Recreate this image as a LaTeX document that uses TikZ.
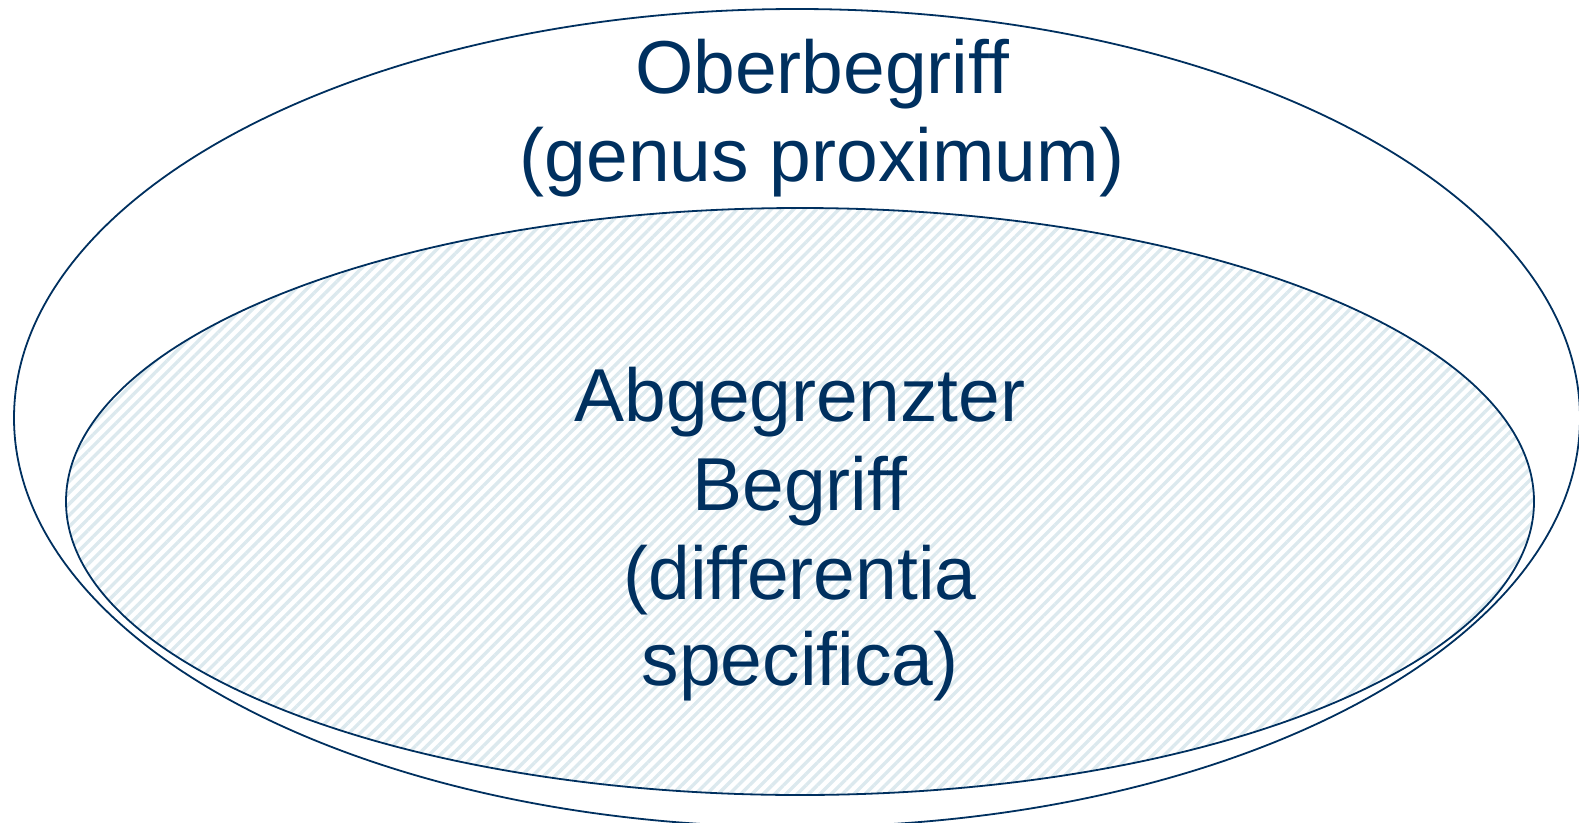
\documentclass[tikz,border=0pt]{standalone}
\usepackage{fontspec}
\setmainfont[Ligatures=NoCommon]{Liberation Sans}
\usetikzlibrary{patterns.meta}
\definecolor{navy}{HTML}{00305F}
\definecolor{hatch}{HTML}{DCE9EE}
\begin{document}
\begin{tikzpicture}[x=1pt,y=-1pt,
  ring/.style={draw=navy,line width=1.8pt},
  lbl/.style={text=navy,font=\fontsize{75}{88}\selectfont,align=center,inner sep=0pt}]
\useasboundingbox (0,0) rectangle (1579,822);
\begin{scope}
\clip (0,0) rectangle (1579,822);
\draw[ring] (797,418) ellipse [x radius=783, y radius=409];
\end{scope}
\fill[pattern={Lines[angle=45,distance=8pt,line width=3.4pt]},pattern color=hatch] (800,501.5) ellipse [x radius=734, y radius=293.5];
\draw[ring] (800,501.5) ellipse [x radius=734, y radius=293.5];
\node[lbl,anchor=base] (oben) at (822,93) {Oberbegriff};
\node[lbl,anchor=base] (genus) at (822,181) {(genus proximum)};
\node[lbl,anchor=base] (a1) at (800,421) {Abgegrenzter};
\node[lbl,anchor=base] (a2) at (800,510) {Begriff};
\node[lbl,anchor=base] (a3) at (800,599) {(differentia};
\node[lbl,anchor=base] (a4) at (800,685) {specifica)};
\end{tikzpicture}
\end{document}
